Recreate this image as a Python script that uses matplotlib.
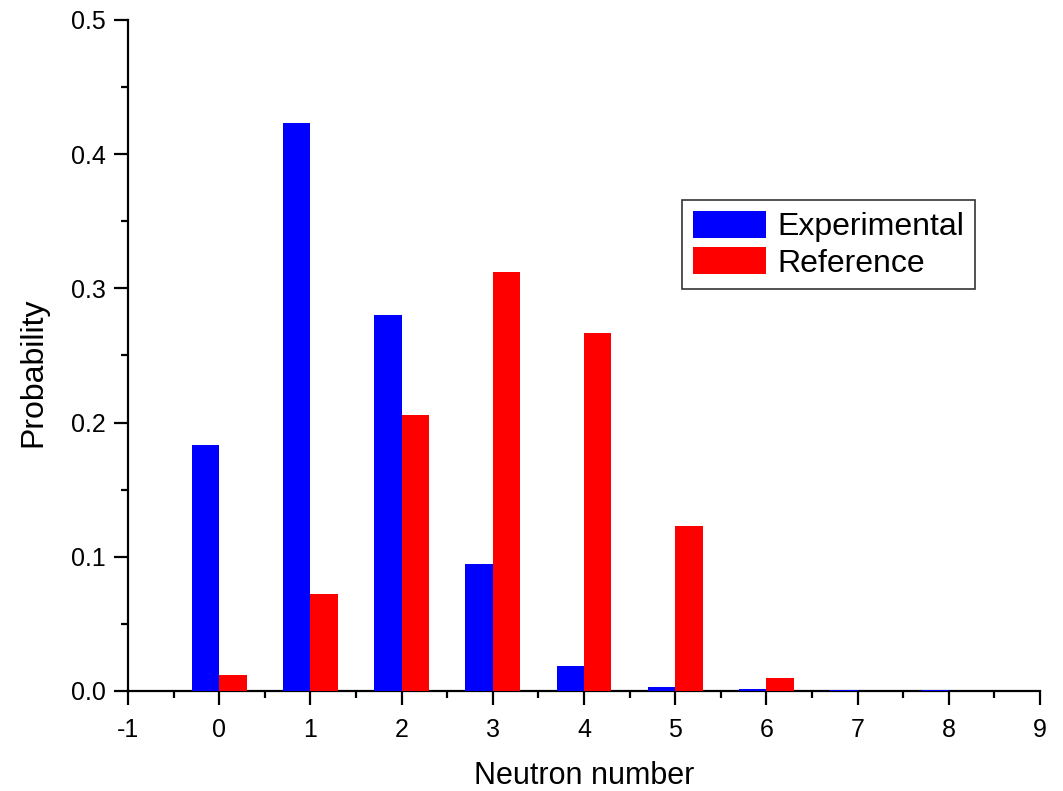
import matplotlib
matplotlib.use("Agg")
import matplotlib.pyplot as plt
from matplotlib.ticker import MultipleLocator, FuncFormatter
import numpy as np

neutron_number = [0, 1, 2, 3, 4, 5, 6, 7, 8]
experimental = [0.183, 0.423, 0.280, 0.095, 0.019, 0.003, 0.0015, 0.0008, 0.0008]
reference = [0.012, 0.072, 0.206, 0.312, 0.267, 0.123, 0.010, 0.0, 0.0]

plt.rcParams['font.family'] = ['Liberation Sans', 'DejaVu Sans']

fig = plt.figure(figsize=(10.63, 7.91), dpi=100)
ax = fig.add_axes([128/1063, 1-691/791, (1040-128)/1063, (691-20)/791])

x = np.array(neutron_number)
w = 0.3
ax.bar(x - w, experimental, width=w, align='edge', color='#0000ff',
       label='Experimental', zorder=4, clip_on=False)
ax.bar(x, reference, width=w, align='edge', color='#ff0000',
       label='Reference', zorder=4, clip_on=False)

ax.set_xlim(-1, 9)
ax.set_ylim(0, 0.5)
ax.xaxis.set_major_locator(MultipleLocator(1))
ax.xaxis.set_minor_locator(MultipleLocator(0.5))
ax.yaxis.set_major_locator(MultipleLocator(0.1))
ax.yaxis.set_minor_locator(MultipleLocator(0.05))
ax.xaxis.set_major_formatter(FuncFormatter(lambda v, p: f"{int(round(v))}"))
ax.yaxis.set_major_formatter(FuncFormatter(lambda v, p: f"{v:.1f}"))

for s in ['top', 'right']:
    ax.spines[s].set_visible(False)
for s in ['left', 'bottom']:
    ax.spines[s].set_linewidth(1.6)
    ax.spines[s].set_zorder(2)

ax.tick_params(which='major', direction='out', length=10, width=1.6, labelsize=18)
ax.tick_params(which='minor', direction='out', length=5, width=1.6)
ax.tick_params(axis='x', which='major', pad=9.5)
ax.tick_params(axis='y', which='major', pad=6)

ax.set_xlabel('Neutron number', fontsize=22, labelpad=13.5)
ax.set_ylabel('Probability', fontsize=23, labelpad=16)
ax.yaxis.label.set_y(0.475)

leg = ax.legend(loc='upper left', bbox_to_anchor=(682/1063, 1-200/791),
                bbox_transform=fig.transFigure, prop={'size': 23}, frameon=True,
                fancybox=False, edgecolor='black', handlelength=2.3,
                handleheight=0.94, labelspacing=0.15, borderpad=0.33,
                handletextpad=0.35, borderaxespad=0)
leg.get_frame().set_linewidth(1.2)

fig.savefig('out.png', dpi=100)
